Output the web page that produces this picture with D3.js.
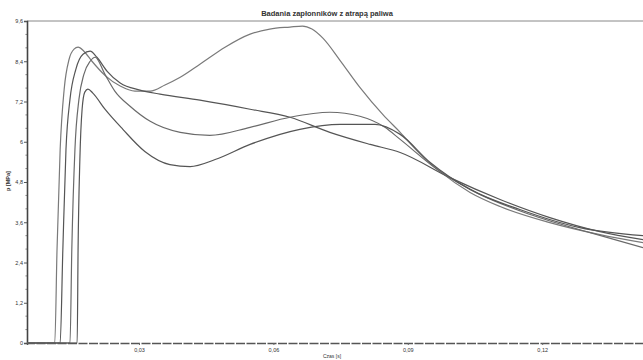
<!DOCTYPE html>
<html>
<head>
<meta charset="utf-8">
<script src="https://cdn.jsdelivr.net/npm/d3@7"></script>
<style>
  body { margin: 0; background: #fff; }
  text { font-family: "Liberation Sans", Arial, sans-serif; fill: #333; }
</style>
</head>
<body>
<div id="chart"></div>
<script>
const width = 643, height = 360;

// tick values / labels
const yTicks = [0, 1.2, 2.4, 3.6, 4.8, 6, 7.2, 8.4, 9.6];
const xTicks = [0.03, 0.06, 0.09, 0.12];

// four pressure curves, time [s] and pressure [MPa]
const tA = [0.005, 0.0112, 0.0117, 0.0124, 0.0133, 0.0144, 0.0155, 0.0164, 0.0177, 0.0195, 0.0224, 0.0258, 0.0291, 0.0325, 0.0358, 0.0392, 0.0436, 0.0492, 0.0548, 0.0592, 0.0637, 0.0665, 0.0686, 0.0711, 0.0749, 0.0793, 0.0845, 0.0883, 0.0927, 0.0972, 0.1039, 0.1106, 0.1217, 0.1329, 0.1425];
const pA = [0, 0, 2.78, 5.77, 7.57, 8.46, 8.76, 8.82, 8.70, 8.40, 7.98, 7.66, 7.51, 7.51, 7.69, 7.92, 8.31, 8.82, 9.21, 9.36, 9.42, 9.45, 9.36, 9.08, 8.42, 7.62, 6.80, 6.28, 5.64, 5.11, 4.49, 4.07, 3.59, 3.23, 2.99];

const tB = [0.005, 0.0124, 0.0130, 0.0137, 0.0146, 0.0159, 0.0175, 0.0191, 0.0206, 0.0229, 0.0258, 0.0302, 0.0347, 0.0436, 0.0548, 0.0637, 0.0726, 0.0816, 0.0883, 0.0994, 0.1106, 0.1217, 0.1329, 0.1425];
const pB = [0, 0, 2.78, 5.77, 7.27, 8.16, 8.61, 8.70, 8.52, 8.10, 7.75, 7.54, 7.42, 7.24, 6.97, 6.73, 6.28, 5.92, 5.68, 4.93, 4.28, 3.74, 3.32, 3.08];

const tC = [0.005, 0.0146, 0.0150, 0.0157, 0.0166, 0.0177, 0.0191, 0.0202, 0.0224, 0.0246, 0.0280, 0.0325, 0.0392, 0.0458, 0.0548, 0.0637, 0.0726, 0.0793, 0.0849, 0.0883, 0.0972, 0.1061, 0.1173, 0.1307, 0.1425];
const pC = [0, 0, 2.78, 5.77, 7.27, 8.01, 8.40, 8.52, 8.01, 7.51, 7.06, 6.61, 6.28, 6.19, 6.43, 6.73, 6.88, 6.76, 6.43, 6.07, 5.11, 4.43, 3.83, 3.29, 2.84];

const tD = [0.005, 0.0162, 0.0164, 0.0168, 0.0173, 0.0179, 0.0186, 0.0197, 0.0224, 0.0264, 0.0313, 0.0369, 0.0414, 0.0470, 0.0548, 0.0659, 0.0749, 0.0827, 0.0883, 0.0950, 0.1039, 0.1150, 0.1284, 0.1425];
const pD = [0, 0, 2.78, 5.47, 6.97, 7.48, 7.57, 7.45, 6.97, 6.37, 5.71, 5.32, 5.26, 5.47, 5.92, 6.37, 6.52, 6.52, 6.22, 5.38, 4.58, 3.98, 3.44, 3.20];

const series = [
  { t: tA, p: pA, color: "#7a7a7a" },
  { t: tB, p: pB, color: "#555" },
  { t: tC, p: pC, color: "#6a6a6a" },
  { t: tD, p: pD, color: "#555" }
];

const margin = { top: 21, right: 0, bottom: 17, left: 27 };

const svg = d3.select("#chart")
    .append("svg")
    .attr("width", width)
    .attr("height", height);

const x = d3.scaleLinear()
    .domain([0.005, 0.1425])
    .range([margin.left, width - margin.right]);

const y = d3.scaleLinear()
    .domain([0, 9.6])
    .range([height - margin.bottom, margin.top]);

// title
svg.append("text")
    .attr("x", 327)
    .attr("y", 16)
    .attr("text-anchor", "middle")
    .style("font-size", "7.5px")
    .style("font-weight", "bold")
    .text("Badania zapłonników z atrapą paliwa");

// top frame line
svg.append("line")
    .attr("x1", margin.left).attr("x2", width)
    .attr("y1", margin.top).attr("y2", margin.top)
    .attr("stroke", "#888").attr("stroke-width", 1);

// y axis
const yAxis = svg.append("g")
    .attr("transform", `translate(${margin.left},0)`)
    .call(d3.axisLeft(y)
        .tickValues(yTicks)
        .tickSize(3)
        .tickFormat(d => d3.format(".1~f")(d).replace(".", ",")));
yAxis.select(".domain").attr("stroke", "#444").attr("stroke-width", 1.6);
yAxis.selectAll(".tick line").attr("stroke", "#555");
yAxis.selectAll(".tick text").style("font-size", "5.5px").attr("fill", "#444").attr("x", -4);

// minor ticks on y
const yMinor = d3.range(0, 9.61, 0.4).filter(v => !yTicks.some(t => Math.abs(t - v) < 1e-6));
svg.append("g").selectAll("line")
    .data(yMinor)
    .enter().append("line")
    .attr("x1", margin.left - 1.5).attr("x2", margin.left)
    .attr("y1", d => y(d)).attr("y2", d => y(d))
    .attr("stroke", "#777");

// x axis
const xAxis = svg.append("g")
    .attr("transform", `translate(0,${height - margin.bottom})`)
    .call(d3.axisBottom(x)
        .tickValues(xTicks)
        .tickSize(2)
        .tickFormat(d => d3.format(".2f")(d).replace(".", ",")));
xAxis.select(".domain")
    .attr("stroke", "#555")
    .attr("stroke-width", 1.4)
    .attr("stroke-dasharray", "9,1.5");
xAxis.selectAll(".tick line").attr("stroke", "#666");
xAxis.selectAll(".tick text").style("font-size", "5.5px").attr("fill", "#444").attr("y", 5);

// axis titles
svg.append("text")
    .attr("x", 332)
    .attr("y", 358)
    .attr("text-anchor", "middle")
    .style("font-size", "5px")
    .attr("fill", "#555")
    .text("Czas [s]");

svg.append("text")
    .attr("transform", "translate(10,181) rotate(-90)")
    .attr("text-anchor", "middle")
    .style("font-size", "5.5px")
    .style("font-weight", "bold")
    .text("p [MPa]");

// curves
const line = d3.line()
    .x(d => x(d[0]))
    .y(d => y(d[1]))
    .curve(d3.curveMonotoneX);

svg.selectAll(".curve")
    .data(series)
    .enter()
    .append("path")
    .attr("class", "curve")
    .attr("fill", "none")
    .attr("stroke", d => d.color)
    .attr("stroke-width", 1.2)
    .attr("d", d => line(d.t.map((t, i) => [t, d.p[i]])));
</script>
</body>
</html>
